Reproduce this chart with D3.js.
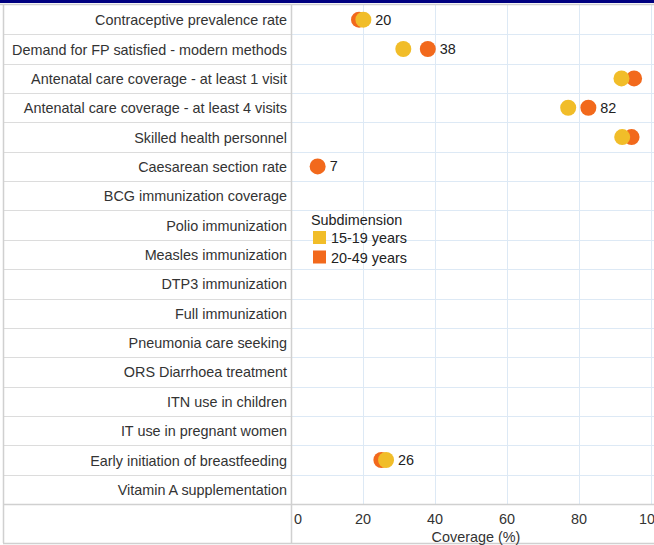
<!DOCTYPE html>
<html>
<head>
<meta charset="utf-8">
<script src="https://cdn.jsdelivr.net/npm/d3@7"></script>
<style>
  html, body { margin: 0; padding: 0; background: #fff; }
  svg { display: block; font-family: "Liberation Sans", Arial, sans-serif; }
</style>
</head>
<body>
<svg id="chart" width="654" height="545"></svg>
<script>
const categories = [
  "Contraceptive prevalence rate",
  "Demand for FP satisfied - modern methods",
  "Antenatal care coverage - at least 1 visit",
  "Antenatal care coverage - at least 4 visits",
  "Skilled health personnel",
  "Caesarean section rate",
  "BCG immunization coverage",
  "Polio immunization",
  "Measles immunization",
  "DTP3 immunization",
  "Full immunization",
  "Pneumonia care seeking",
  "ORS Diarrhoea treatment",
  "ITN use in children",
  "IT use in pregnant women",
  "Early initiation of breastfeeding",
  "Vitamin A supplementation"
];
const seriesNames = ["15-19 years", "20-49 years"];
const values1519 = [20.1, 31.2, 91.8, 77, 92, null, null, null, null, null, null, null, null, null, null, 26.4, null];
const values2049 = [18.9, 38, 95.3, 82.6, 94.6, 7.4, null, null, null, null, null, null, null, null, null, 25.1, null];
const valueLabels = ["20", "38", null, "82", null, "7", null, null, null, null, null, null, null, null, null, "26", null];
const xTicks = [0, 20, 40, 60, 80, 100];
const legendTitle = "Subdimension";
const xTitle = "Coverage (%)";

const colors = { "15-19 years": "#F1BD29", "20-49 years": "#F2691C" };

const svg = d3.select("#chart");
const W = 654, H = 545;
const FS = 14.4;
const plotLeft = 291, plotTop = 5, plotBottom = 504, axisBottom = 543;

const x = d3.scaleLinear().domain([0, 100]).range([plotLeft, plotLeft + 360]);
const y = d3.scaleBand().domain(categories).range([plotTop, plotBottom]);

// top navy bar
svg.append("rect").attr("x", 0).attr("y", 0).attr("width", W).attr("height", 3).attr("fill", "#000080");

// row separators - label panel (gray) and plot (blue)
const rowLines = categories.slice(1).map(c => y(c));
svg.append("g").selectAll("line").data(rowLines).join("line")
  .attr("x1", 3).attr("x2", plotLeft).attr("y1", d => Math.round(d) + 0.5).attr("y2", d => Math.round(d) + 0.5)
  .attr("stroke", "#dcdcdc");
svg.append("g").selectAll("line").data(rowLines).join("line")
  .attr("x1", plotLeft).attr("x2", W).attr("y1", d => Math.round(d) + 0.5).attr("y2", d => Math.round(d) + 0.5)
  .attr("stroke", "#dde9f5");

// vertical gridlines
svg.append("g").selectAll("line").data(xTicks.slice(1)).join("line")
  .attr("x1", d => Math.round(x(d)) + 0.5).attr("x2", d => Math.round(x(d)) + 0.5)
  .attr("y1", plotTop).attr("y2", plotBottom)
  .attr("stroke", "#dde9f5");

// borders
const border = "#d0d0d0";
svg.append("line").attr("x1", 0).attr("x2", W).attr("y1", 4.5).attr("y2", 4.5).attr("stroke", border).attr("stroke-width", 1.5);
svg.append("line").attr("x1", 3.5).attr("x2", 3.5).attr("y1", 4).attr("y2", axisBottom).attr("stroke", border).attr("stroke-width", 1.5);
svg.append("line").attr("x1", plotLeft + 0.5).attr("x2", plotLeft + 0.5).attr("y1", 4).attr("y2", axisBottom).attr("stroke", border).attr("stroke-width", 1.5);
svg.append("line").attr("x1", 3).attr("x2", W).attr("y1", plotBottom + 0.5).attr("y2", plotBottom + 0.5).attr("stroke", border).attr("stroke-width", 1.5);
svg.append("line").attr("x1", 3).attr("x2", W).attr("y1", axisBottom + 0.5).attr("y2", axisBottom + 0.5).attr("stroke", border).attr("stroke-width", 1.5);

// category labels
svg.append("g").selectAll("text").data(categories).join("text")
  .attr("x", 287).attr("y", d => y(d) + y.bandwidth() / 2 + 0.5)
  .attr("dy", "0.35em").attr("text-anchor", "end")
  .attr("font-size", FS).attr("fill", "#333")
  .text(d => d);

// x axis tick labels
svg.append("g").selectAll("text").data(xTicks).join("text")
  .attr("x", d => d === 0 ? x(d) + 3 : x(d))
  .attr("y", 519).attr("dy", "0.35em")
  .attr("text-anchor", d => d === 0 ? "start" : "middle")
  .attr("font-size", FS).attr("fill", "#333")
  .text(d => d);

svg.append("text").attr("x", 476).attr("y", 537).attr("dy", "0.35em")
  .attr("text-anchor", "middle").attr("font-size", FS).attr("fill", "#333").text(xTitle);

// dots: orange first, yellow on top
const r = 8;
const dots = svg.append("g");
[["20-49 years", values2049], ["15-19 years", values1519]].forEach(([name, vals]) => {
  dots.append("g").selectAll("circle")
    .data(categories.map((c, i) => ({ c, v: vals[i] })).filter(d => d.v != null))
    .join("circle")
    .attr("cx", d => x(d.v)).attr("cy", d => y(d.c) + y.bandwidth() / 2)
    .attr("r", r).attr("fill", colors[name]);
});

// value labels right of the rightmost dot
svg.append("g").selectAll("text")
  .data(categories.map((c, i) => ({ c, i, lab: valueLabels[i] })).filter(d => d.lab != null))
  .join("text")
  .attr("x", d => x(Math.max(values1519[d.i] ?? -Infinity, values2049[d.i] ?? -Infinity)) + r + 4)
  .attr("y", d => y(d.c) + y.bandwidth() / 2).attr("dy", "0.35em")
  .attr("font-size", FS).attr("fill", "#222")
  .text(d => d.lab);

// legend
const lg = svg.append("g");
lg.append("text").attr("x", 311).attr("y", 220).attr("dy", "0.35em")
  .attr("font-size", FS).attr("fill", "#222").text(legendTitle);
seriesNames.forEach((s, i) => {
  lg.append("rect").attr("x", 313).attr("y", 231 + i * 19.5).attr("width", 13).attr("height", 13).attr("fill", colors[s]);
  lg.append("text").attr("x", 331).attr("y", 238 + i * 19.5).attr("dy", "0.35em")
    .attr("font-size", FS).attr("fill", "#222").text(s);
});
</script>
</body>
</html>
